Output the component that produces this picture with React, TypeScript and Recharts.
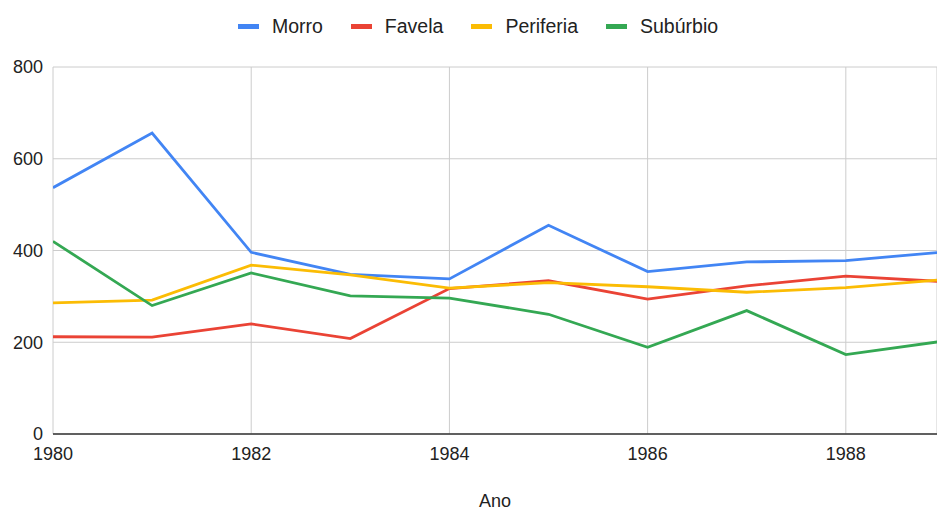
import React from 'react';
import { LineChart, Line, XAxis, YAxis, CartesianGrid, Legend } from 'recharts';

// anos e valores
const years = [1980, 1981, 1982, 1983, 1984, 1985, 1986, 1987, 1988, 1989];
const morro = [537, 656, 396, 348, 338, 455, 354, 375, 378, 397];
const favela = [212, 211, 240, 208, 317, 334, 294, 323, 344, 332];
const periferia = [286, 292, 368, 347, 318, 330, 321, 309, 319, 337];
const suburbio = [420, 280, 351, 301, 296, 261, 189, 269, 173, 203];

const xTicks = [1980, 1982, 1984, 1986, 1988];
const yTicks = [0, 200, 400, 600, 800];

const series = [
  { key: 'Morro', color: '#4285F4' },
  { key: 'Favela', color: '#EA4335' },
  { key: 'Periferia', color: '#FBBC04' },
  { key: 'Subúrbio', color: '#34A853' },
];

const data = years.map((ano, i) => ({
  ano,
  Morro: morro[i],
  Favela: favela[i],
  Periferia: periferia[i],
  Subúrbio: suburbio[i],
}));

const FONT = '"Liberation Sans", Arial, sans-serif';

const TopLegend = () => (
  <div
    style={{
      height: 67,
      boxSizing: 'border-box',
      paddingTop: 15,
      paddingLeft: 19,
      display: 'flex',
      justifyContent: 'center',
      fontFamily: FONT,
      fontSize: 19.5,
      color: '#222',
    }}
  >
    {series.map((s) => (
      <div key={s.key} style={{ display: 'flex', alignItems: 'center', height: 22, margin: '0 14px' }}>
        <span style={{ display: 'inline-block', width: 21, height: 5, background: s.color, marginRight: 13 }} />
        <span>{s.key}</span>
      </div>
    ))}
  </div>
);

export default function App() {
  return (
    <div style={{ position: 'absolute', left: 0, top: 0, background: '#fff' }}>
      <LineChart width={937} height={512} data={data} margin={{ top: 0, right: 0, left: 0, bottom: 0 }}>
        <CartesianGrid stroke="#cccccc" />
        <XAxis
          dataKey="ano"
          type="number"
          domain={[1980, 1988.92]}
          allowDataOverflow
          ticks={xTicks}
          height={78}
          tickLine={false}
          tickSize={0}
          tickMargin={13}
          axisLine={{ stroke: '#333', strokeWidth: 1.5 }}
          tick={{ fill: '#222', fontSize: 18, fontFamily: FONT }}
          label={{ value: 'Ano', position: 'insideBottom', offset: 5, fill: '#222', fontSize: 18, fontFamily: FONT }}
        />
        <YAxis
          domain={[0, 800]}
          ticks={yTicks}
          width={53}
          axisLine={false}
          tickLine={false}
          tickSize={0}
          tickMargin={10}
          tick={{ fill: '#222', fontSize: 18, fontFamily: FONT }}
        />
        <Legend verticalAlign="top" content={() => <TopLegend />} />
        {series.map((s) => (
          <Line
            key={s.key}
            type="linear"
            dataKey={s.key}
            stroke={s.color}
            strokeWidth={2.8}
            dot={false}
            activeDot={false}
            isAnimationActive={false}
          />
        ))}
      </LineChart>
    </div>
  );
}
